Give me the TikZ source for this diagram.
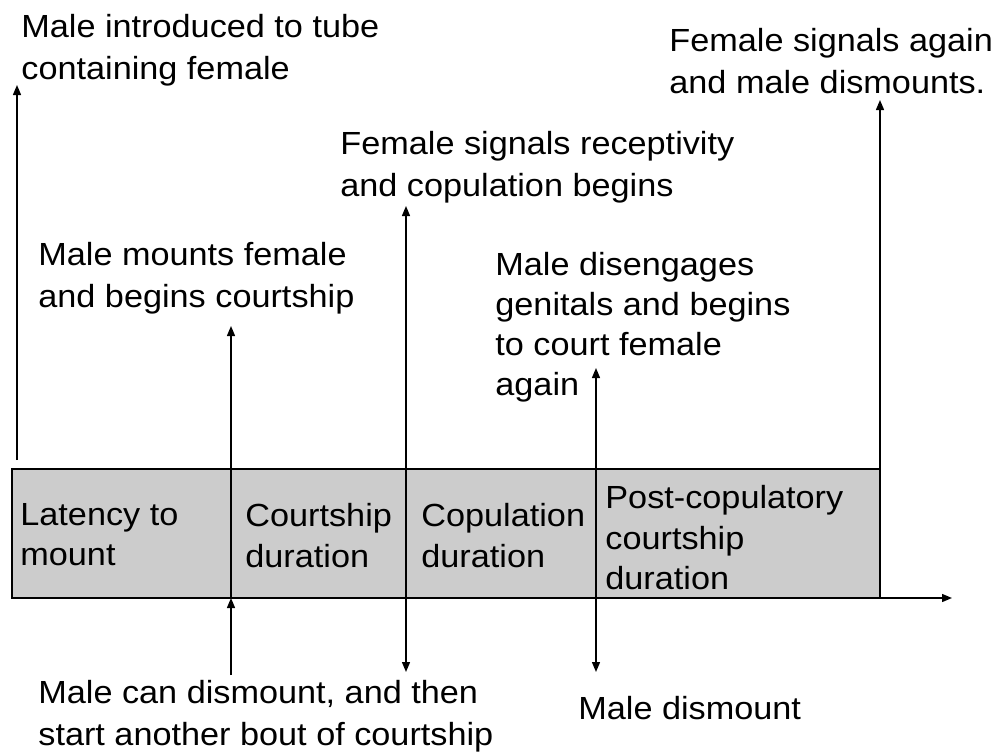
\documentclass[tikz,border=0pt]{standalone}
\usepackage{fontspec}
\setmainfont{Liberation Sans}[FakeStretch=1.07]
\usetikzlibrary{arrows.meta}
\tikzset{
  note/.style={anchor=north west, inner sep=0pt, align=left,
    font=\fontsize{16}{21}\selectfont},
  phase/.style={note, font=\fontsize{16}{20.25}\selectfont},
  conn/.style={line width=0.7pt, -{Triangle[length=5pt,width=4pt]}},
  both/.style={{Triangle[length=5pt,width=4pt]}-{Triangle[length=5pt,width=4pt]}},
  bar/.style={line width=1.25pt}
}
\begin{document}
\begin{tikzpicture}[x=0.5pt, y=-0.5pt]
      \useasboundingbox (0,0) rectangle (1003,755);
      % time bar
      \draw[bar, fill=gray!40] (12,469) rectangle (880,598);
      \draw
        (17,460) coordinate (s0)   (17,85) coordinate (h0)
        (231,469) coordinate (t1)  (231,598) coordinate (d1)
        (231,326) coordinate (h1)  (231,675) coordinate (l1)
        (406,469) coordinate (t2)  (406,598) coordinate (d2)
        (406,206) coordinate (h2)  (406,672) coordinate (l2)
        (596,469) coordinate (t3)  (596,598) coordinate (d3)
        (596,368) coordinate (h3)  (596,672) coordinate (l3)
        (880,469) coordinate (t4)  (880,598) coordinate (d4)
        (880,100) coordinate (h4)  (952,598) coordinate (x4);
      \begin{scope}[bar]
        \draw (t1) to (d1);
        \draw (t2) to (d2);
        \draw (t3) to (d3);
      \end{scope}
      \draw
        (20,503) node[phase] (latency){Latency to\\mount}
        (245,503) node[phase] (court){Courtship\\duration}
        (421,503) node[phase] (copul){Copulation\\duration}
        (605,485) node[phase] (post){Post-copulatory\\courtship\\duration};
      % events
      \draw
        (21,14) node[note] (intro){Male introduced to tube\\containing female}
        (669,28) node[note] (again){Female signals again\\and male dismounts.}
        (340,131) node[note] (recept){Female signals receptivity\\and copulation begins}
        (38,242) node[note] (mounts){Male mounts female\\and begins courtship}
        (495,252) node[note, font=\fontsize{16}{20}\selectfont] (diseng){Male disengages\\genitals and begins\\to court female\\again}
        (38,680) node[note] (bout){Male can dismount, and then\\start another bout of courtship}
        (578,696) node[note] (dismount){Male dismount};
      \begin{scope}[conn]
        \draw (s0) to (h0);
        \draw (t1) to (h1);
        \draw (l1) to (d1);
        \draw[both] (l2) to (h2);
        \draw[both] (l3) to (h3);
        \draw (t4) to (h4);
        \draw (d4) to (x4);
      \end{scope}
    \end{tikzpicture}
\end{document}
